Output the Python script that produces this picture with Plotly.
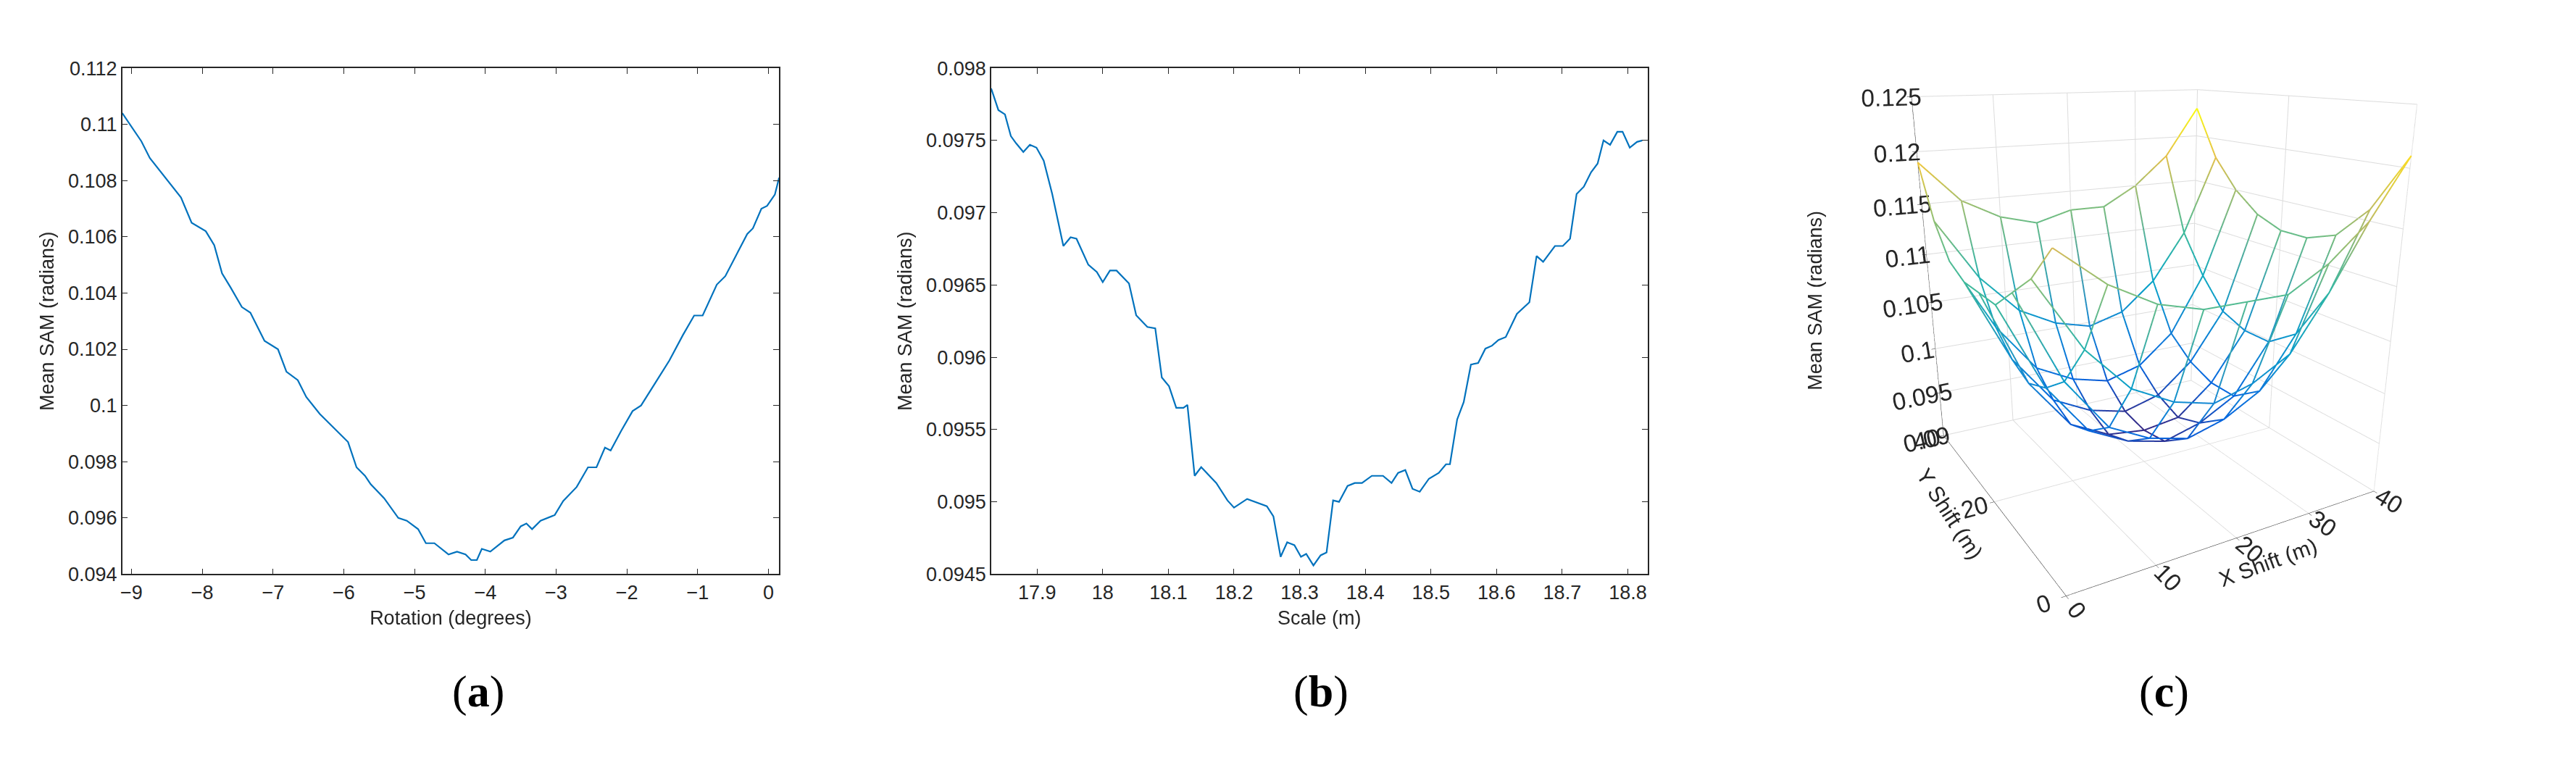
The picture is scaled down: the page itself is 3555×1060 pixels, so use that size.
import plotly.graph_objects as go

rot_x = [-9.13,-8.86,-8.74,-8.42,-8.3,-8.15,-7.95,-7.83,-7.72,-7.6,-7.44,-7.32,-7.12,-6.93,-6.81,-6.65,-6.53,-6.34,-6.18,-5.94,-5.82,-5.7,-5.62,-5.43,-5.23,-5.11,-4.95,-4.84,-4.72,-4.52,-4.4,-4.28,-4.2,-4.12,-4.05,-3.93,-3.73,-3.61,-3.5,-3.42,-3.34,-3.22,-3.02,-2.9,-2.71,-2.55,-2.43,-2.31,-2.23,-2.08,-1.92,-1.8,-1.6,-1.4,-1.21,-1.05,-0.93,-0.73,-0.61,-0.42,-0.3,-0.22,-0.1,-0.02,0.09,0.15]
rot_y = [0.1104,0.1094,0.1088,0.1078,0.1074,0.1065,0.1062,0.1057,0.1047,0.1042,0.1035,0.1033,0.1023,0.1020,0.1012,0.1009,0.1003,0.0997,0.0993,0.0987,0.0978,0.0975,0.0972,0.0967,0.0960,0.0959,0.0956,0.0951,0.0951,0.0947,0.0948,0.0947,0.0945,0.0945,0.0949,0.0948,0.0952,0.0953,0.0957,0.0958,0.0956,0.0959,0.0961,0.0966,0.0971,0.0978,0.0978,0.0985,0.0984,0.0991,0.0998,0.1000,0.1008,0.1016,0.1025,0.1032,0.1032,0.1043,0.1046,0.1055,0.1061,0.1063,0.1070,0.1071,0.1075,0.1081]

sc_x = [17.83,17.841,17.851,17.86,17.868,17.879,17.889,17.899,17.91,17.923,17.94,17.951,17.96,17.978,17.991,18.0,18.011,18.021,18.04,18.051,18.068,18.08,18.09,18.101,18.112,18.123,18.129,18.14,18.15,18.173,18.19,18.2,18.22,18.233,18.25,18.26,18.271,18.281,18.292,18.302,18.31,18.321,18.332,18.341,18.351,18.36,18.373,18.384,18.395,18.41,18.427,18.44,18.45,18.461,18.472,18.483,18.497,18.512,18.523,18.529,18.54,18.55,18.561,18.572,18.583,18.593,18.603,18.614,18.631,18.65,18.661,18.671,18.689,18.701,18.712,18.722,18.733,18.744,18.754,18.763,18.773,18.784,18.792,18.803,18.814,18.822]
sc_y = [0.09786,0.09771,0.09768,0.09753,0.09748,0.09742,0.09747,0.09745,0.09736,0.09713,0.09677,0.09683,0.09682,0.09664,0.09659,0.09652,0.0966,0.0966,0.09651,0.09629,0.09621,0.0962,0.09586,0.0958,0.09565,0.09565,0.09567,0.09518,0.09524,0.09513,0.09501,0.09496,0.09502,0.095,0.09497,0.0949,0.09462,0.09472,0.0947,0.09462,0.09464,0.09456,0.09463,0.09465,0.09501,0.095,0.09511,0.09513,0.09513,0.09518,0.09518,0.09513,0.0952,0.09522,0.09509,0.09507,0.09516,0.0952,0.09526,0.09526,0.09557,0.09569,0.09595,0.09596,0.09606,0.09608,0.09612,0.09614,0.0963,0.09638,0.0967,0.09666,0.09677,0.09677,0.09682,0.09713,0.09718,0.09728,0.09734,0.0975,0.09747,0.09756,0.09756,0.09745,0.09749,0.0975]

grid_x = [0,5,10,15,20,25,30,35,40]
grid_y = [0,5,10,15,20,25,30,35,40]
grid_z = [
 [0.117,0.114,0.112,0.111,0.111,0.111,0.113,0.116,0.121],
 [0.114,0.108,0.104,0.102,0.101,0.102,0.104,0.109,0.116],
 [0.112,0.104,0.099,0.097,0.096,0.097,0.099,0.104,0.113],
 [0.110,0.102,0.097,0.095,0.094,0.095,0.097,0.102,0.112],
 [0.110,0.101,0.096,0.094,0.0935,0.094,0.097,0.102,0.112],
 [0.110,0.102,0.097,0.095,0.094,0.095,0.098,0.103,0.113],
 [0.111,0.104,0.099,0.097,0.096,0.097,0.100,0.106,0.115],
 [0.114,0.108,0.104,0.102,0.101,0.102,0.105,0.110,0.118],
 [0.119,0.115,0.113,0.112,0.113,0.113,0.115,0.118,0.123],
]

parula = [[0,'#352a87'],[0.1,'#0363e1'],[0.25,'#1485d4'],[0.4,'#06a7c6'],[0.55,'#38b99e'],
          [0.7,'#92bf73'],[0.8,'#d9ba56'],[0.9,'#fcce2e'],[1,'#f9fb0e']]
zmin, zmax = 0.0935, 0.123

FONT = dict(family="Liberation Sans, Arial", size=27, color="#262626")
F3 = dict(family="Liberation Sans, Arial", size=20, color="#262626")
T3 = dict(family="Liberation Sans, Arial", size=30, color="#262626")
fig = go.Figure()
fig.add_trace(go.Scatter(x=rot_x, y=rot_y, mode="lines", line=dict(color="#0072BD", width=2.2),
                         xaxis="x", yaxis="y", showlegend=False))
fig.add_trace(go.Scatter(x=sc_x, y=sc_y, mode="lines", line=dict(color="#0072BD", width=2.2),
                         xaxis="x2", yaxis="y2", showlegend=False))

for i, yv in enumerate(grid_y):
    fig.add_trace(go.Scatter3d(x=grid_x, y=[yv]*len(grid_x), z=grid_z[i], mode="lines",
                               line=dict(color=grid_z[i], colorscale=parula, cmin=zmin, cmax=zmax, width=4),
                               showlegend=False, hoverinfo="skip"))
for j, xv in enumerate(grid_x):
    col = [row[j] for row in grid_z]
    fig.add_trace(go.Scatter3d(x=[xv]*len(grid_y), y=grid_y, z=col, mode="lines",
                               line=dict(color=col, colorscale=parula, cmin=zmin, cmax=zmax, width=4),
                               showlegend=False, hoverinfo="skip"))

ax = dict(showline=True, linecolor="#262626", linewidth=1.5, mirror="ticks", ticks="inside",
          ticklen=8, tickcolor="#262626", showgrid=False, zeroline=False, tickfont=FONT)
ax3 = dict(gridcolor="#dcdcdc", showbackground=False, showline=True, linecolor="#262626",
           tickfont=F3, ticks="outside", tickcolor="#262626")
fig.update_layout(
    width=3555, height=1060, margin=dict(l=0, r=0, t=0, b=0),
    plot_bgcolor="white", paper_bgcolor="white", font=FONT,
    xaxis=dict(ax, domain=[0.0444, 0.2996], range=[-9.13, 0.15], dtick=1,
               title=dict(text="Rotation (degrees)", font=FONT, standoff=12)),
    yaxis=dict(ax, domain=[0.253, 0.931], range=[0.094, 0.112], dtick=0.002, tickformat="~g",
               title=dict(text="Mean SAM (radians)", font=FONT, standoff=12)),
    xaxis2=dict(ax, domain=[0.382, 0.637], range=[17.83, 18.83], dtick=0.1, tick0=17.9, anchor="y2",
                title=dict(text="Scale (m)", font=FONT, standoff=12)),
    yaxis2=dict(ax, domain=[0.253, 0.931], range=[0.0945, 0.098], dtick=0.0005, tickformat="~g", anchor="x2",
                title=dict(text="Mean SAM (radians)", font=FONT, standoff=12)),
    scene=dict(domain=dict(x=[0.665, 0.995], y=[0.10, 1.0]),
               xaxis=dict(ax3, title=dict(text="X Shift (m)", font=T3), range=[0, 40], dtick=10),
               yaxis=dict(ax3, title=dict(text="Y Shift (m)", font=T3), range=[0, 40], dtick=20),
               zaxis=dict(ax3, title=dict(text=""), range=[0.09, 0.125],
                          dtick=0.005, tickformat="~g"),
               aspectmode="manual", aspectratio=dict(x=1, y=1, z=1.1),
               camera=dict(eye=dict(x=-1.14, y=-2.0, z=0.67), center=dict(x=0, y=0, z=-0.18),
                           projection=dict(type="perspective"))),
    annotations=[
        dict(text="Mean SAM (radians)", x=0.707, y=0.62, xref="paper", yref="paper", showarrow=False,
             textangle=-90, font=FONT),
        dict(text="(<b>a</b>)", x=0.172, y=0.06, xref="paper", yref="paper", showarrow=False,
             font=dict(family="Liberation Serif", size=62, color="black")),
        dict(text="(<b>b</b>)", x=0.510, y=0.06, xref="paper", yref="paper", showarrow=False,
             font=dict(family="Liberation Serif", size=62, color="black")),
        dict(text="(<b>c</b>)", x=0.848, y=0.06, xref="paper", yref="paper", showarrow=False,
             font=dict(family="Liberation Serif", size=62, color="black")),
    ],
)
fig.write_html("out.html")
